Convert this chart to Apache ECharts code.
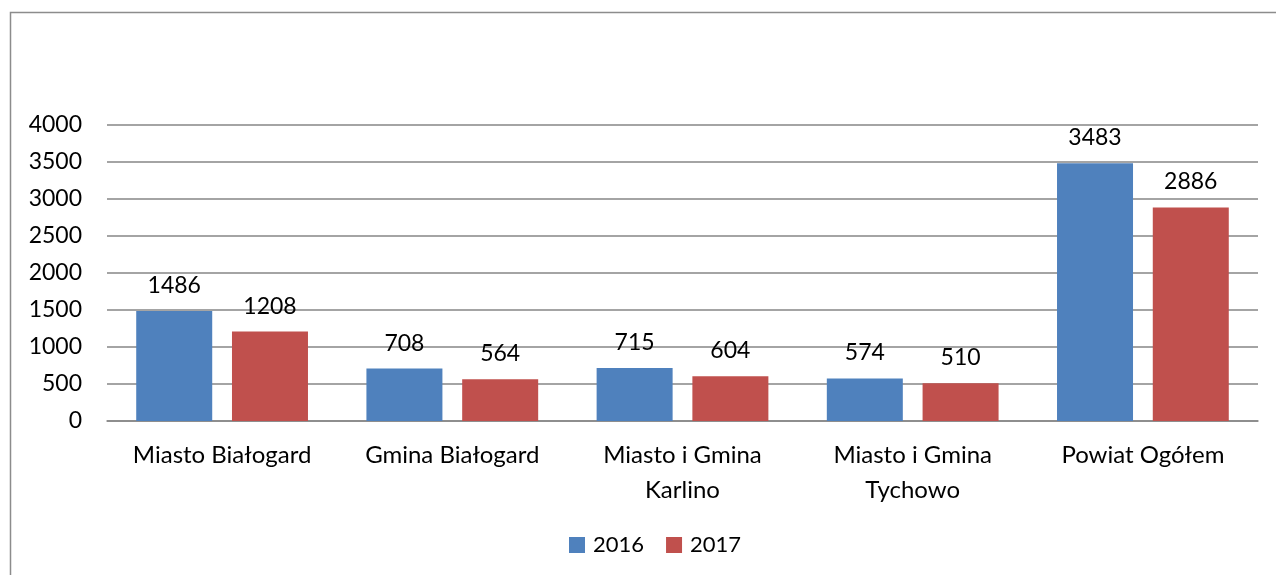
<!DOCTYPE html>
<html><head><meta charset="utf-8">
<script src="https://cdn.jsdelivr.net/npm/echarts@6/dist/echarts.min.js"></script>
<style>html,body{margin:0;padding:0;background:#fff}#c{width:1276px;height:575px}</style>
</head><body><div id="c"></div>
<script>
var categories = ['Miasto Białogard', 'Gmina Białogard', 'Miasto i Gmina\nKarlino', 'Miasto i Gmina\nTychowo', 'Powiat Ogółem'];
var seriesNames = ['2016', '2017'];
var values2016 = [1486, 708, 715, 574, 3483];
var values2017 = [1208, 564, 604, 510, 2886];
var yTicks = [0, 500, 1000, 1500, 2000, 2500, 3000, 3500, 4000];

var FONT = 'Lato, "Open Sans", sans-serif';
var chart = echarts.init(document.getElementById('c'));
var lbl = {show: true, position: 'top', distance: 14, color: '#000', fontSize: 23, fontFamily: FONT};
chart.setOption({
  animation: false,
  graphic: [{type: 'rect', shape: {x: 10.5, y: 12.5, width: 1400, height: 700}, style: {fill: 'none', stroke: '#8c8c8c', lineWidth: 1.5}, z: -1}],
  legend: {
    data: seriesNames, bottom: 14, left: 564, itemWidth: 16, itemHeight: 16, itemGap: 22,
    icon: 'rect', textStyle: {fontSize: 22, fontFamily: FONT, color: '#000', padding: [0, 0, 0, 3]}
  },
  grid: {left: 107, right: 18, top: 125, bottom: 154, containLabel: false},
  xAxis: {
    type: 'category', data: categories,
    axisLine: {lineStyle: {color: '#868686', width: 1.5}},
    axisTick: {show: false},
    axisLabel: {color: '#000', fontSize: 24, fontFamily: FONT, margin: 17, lineHeight: 35, interval: 0}
  },
  yAxis: {
    type: 'value', min: yTicks[0], max: yTicks[yTicks.length - 1], interval: 500,
    axisLine: {show: false}, axisTick: {show: false},
    splitLine: {lineStyle: {color: '#868686', width: 1.5}},
    axisLabel: {color: '#000', fontSize: 23, fontFamily: FONT, margin: 25, formatter: function (v) { return String(v); }}
  },
  series: [
    {name: seriesNames[0], type: 'bar', data: values2016, barWidth: 76, barGap: '26%', itemStyle: {color: '#4F81BD'}, label: lbl},
    {name: seriesNames[1], type: 'bar', data: values2017, barWidth: 76, itemStyle: {color: '#C0504D'}, label: lbl}
  ]
});
</script></body></html>
